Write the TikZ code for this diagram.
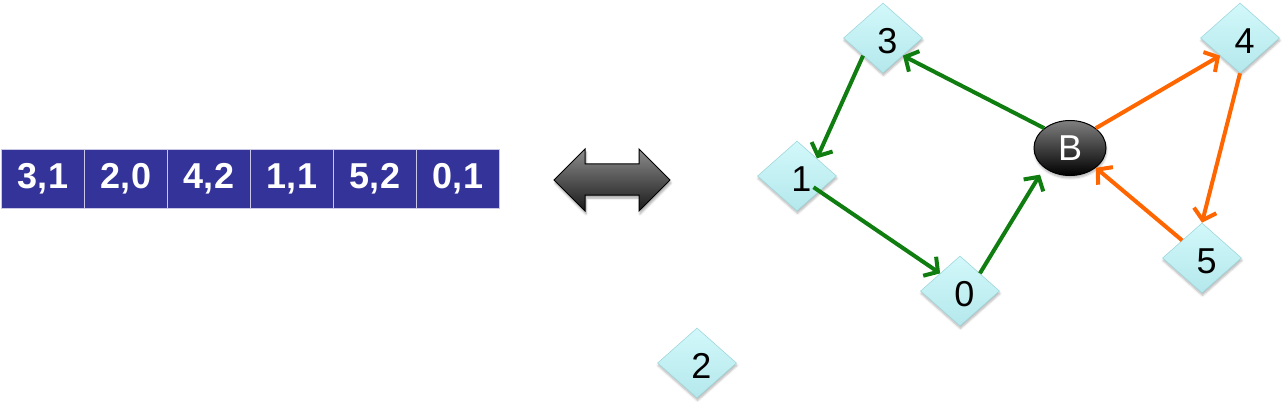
\documentclass[tikz,border=0pt]{standalone}
\usepackage{fontspec}
\setmainfont{Liberation Sans}
\usetikzlibrary{shapes.geometric,arrows.meta,shadows.blur}
\definecolor{cellblue}{RGB}{51,51,153}
\definecolor{cellline}{RGB}{200,200,230}
\definecolor{dtop}{RGB}{210,248,250}
\definecolor{dbot}{RGB}{180,232,236}
\definecolor{dline}{RGB}{160,216,222}
\definecolor{egreen}{RGB}{16,125,16}
\definecolor{eorange}{RGB}{255,102,0}
\newcommand{\vlab}[1]{\hspace*{9pt}\raisebox{-3pt}[\height][\depth]{#1}}
\tikzset{
  cell/.style={rectangle, draw=cellline, line width=1pt, fill=cellblue, text=white,
    minimum width=83pt, minimum height=58pt, inner sep=0pt,
    font=\fontsize{36}{40}\selectfont\bfseries},
  vertex/.style={diamond, draw=dline, line width=0.6pt, top color=dtop, bottom color=dbot,
    minimum width=79pt, minimum height=70pt, inner sep=0pt,
    font=\fontsize{36}{40}\selectfont,
    blur shadow={shadow xshift=0.5pt, shadow yshift=-2.5pt, shadow blur steps=6, shadow opacity=30}},
  bnode/.style={ellipse, draw=black, line width=1pt, top color=black!50, bottom color=black,
    text=white, minimum width=72pt, minimum height=55pt, inner sep=0pt,
    font=\fontsize{36}{40}\selectfont,
    blur shadow={shadow xshift=0.5pt, shadow yshift=-2.5pt, shadow blur steps=6, shadow opacity=30}},
  gedge/.style={draw=egreen, line width=4pt, -{Straight Barb[length=10pt,width=23pt,line width=4pt]}},
  oedge/.style={draw=eorange, line width=4pt, -{Straight Barb[length=10pt,width=23pt,line width=4pt]}},
  dblarrow/.style={draw=black, line width=1pt, line join=miter, top color=black!45, bottom color=black!90,
    blur shadow={shadow xshift=1pt, shadow yshift=-3pt, shadow blur steps=6, shadow opacity=35}}
}
\begin{document}
\begin{tikzpicture}[x=1pt,y=-1pt]
\useasboundingbox (0,0) rectangle (1288,409);
% array
\node[cell] (c1) at (43,179) {3,1};
\node[cell] (c2) at (126,179) {2,0};
\node[cell] (c3) at (209,179) {4,2};
\node[cell] (c4) at (292,179) {1,1};
\node[cell] (c5) at (375,179) {5,2};
\node[cell] (c6) at (458,179) {0,1};
% double arrow
\path[dblarrow] (554,180) -- (585,149) -- (585,164) -- (639,164) -- (639,149) -- (670,180)
  -- (639,211) -- (639,195) -- (585,195) -- (585,211) -- cycle;
% graph
\node[vertex] (n3) at (883,38) {\vlab{3}};
\node[vertex] (n1) at (797,176) {\vlab{1}};
\node[vertex] (n0) at (960,291) {\vlab{0}};
\node[vertex] (n2) at (697,363) {\vlab{2}};
\node[vertex] (n4) at (1240,38) {\vlab{4}};
\node[vertex] (n5) at (1202,258) {\vlab{5}};
\node[bnode] (B) at (1070,148) {B};
% edges
\draw[gedge] (B.north west) -- (n3.south east);
\draw[gedge] (n3.south west) -- (n1.north east);
\draw[gedge, shorten <=20pt] (n1.center) -- (n0.north west);
\draw[gedge, shorten >=8pt] (n0.north east) -- (B.south west);
\draw[oedge] (B.north east) -- (n4.south west);
\draw[oedge] (n4.south) -- (n5.north);
\draw[oedge] (n5.north west) -- (B.south east);
\end{tikzpicture}
\end{document}
